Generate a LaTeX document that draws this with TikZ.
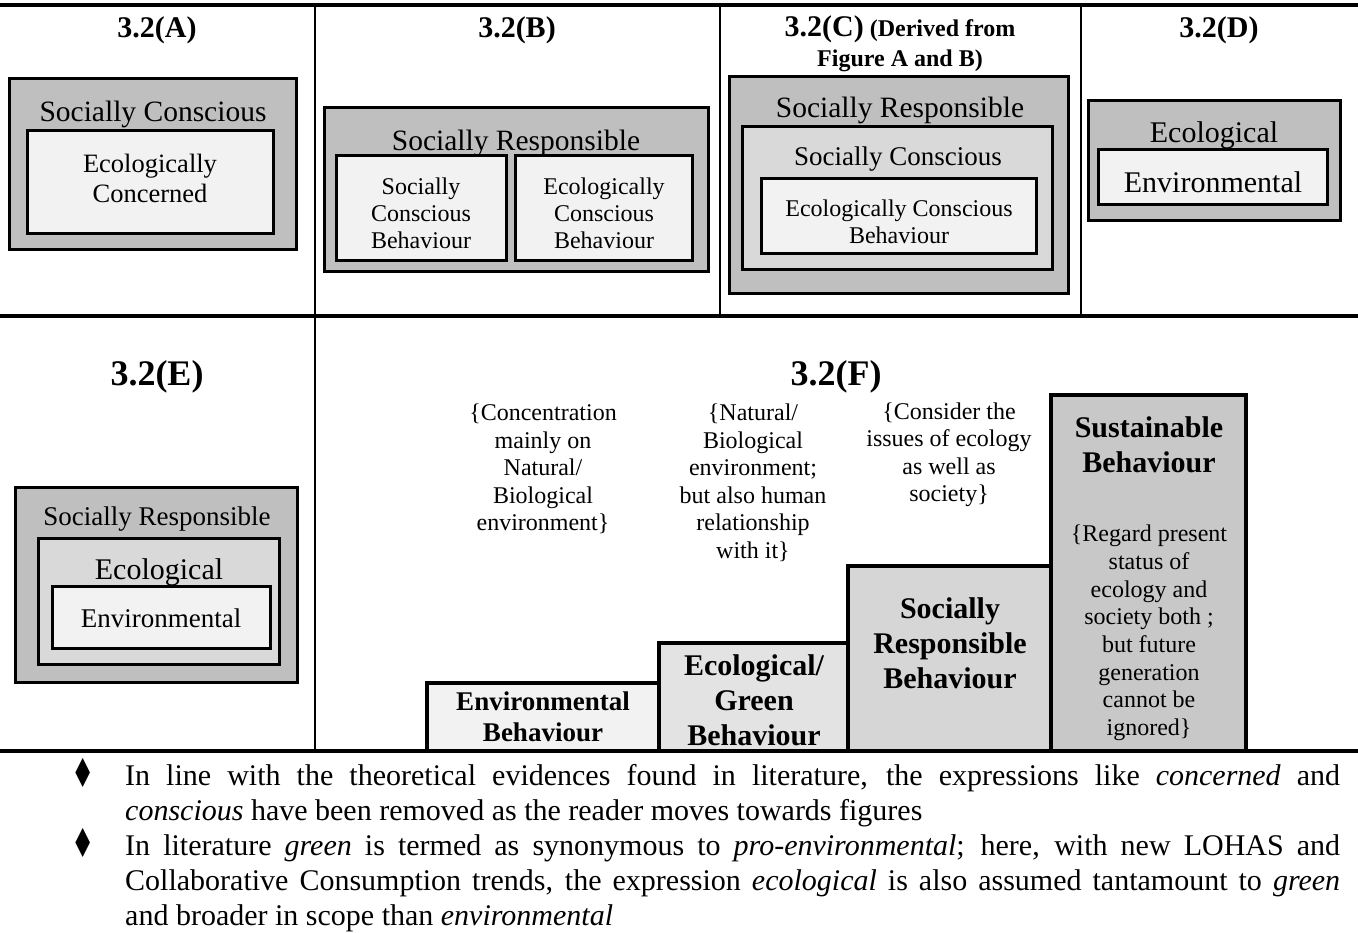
\documentclass[tikz,border=0pt]{standalone}
\usepackage{fontspec}
\setmainfont{Liberation Serif}
\newfontfamily\symfont{DejaVu Sans}
\newcommand\fz[2]{\fontsize{#1}{#2}\selectfont}
\definecolor{gA}{HTML}{BFBFBF}
\definecolor{gB}{HTML}{D9D9D9}
\definecolor{gC}{HTML}{F2F2F2}
\definecolor{sA}{HTML}{F2F2F2}
\definecolor{sB}{HTML}{E3E3E3}
\definecolor{sC}{HTML}{D6D6D6}
\definecolor{sD}{HTML}{C8C8C8}
\begin{document}
\begin{tikzpicture}[x=1pt,y=-1pt,
  frameline/.style={line width=3.5pt},
  panelline/.style={line width=2pt},
  box/.style={draw,line width=3pt},
  stepbox/.style={draw,line width=3.5pt},
  lbl/.style={inner sep=0pt,align=center,yshift=-2pt},
  title/.style={lbl,font=\bfseries\fz{30}{34},yshift=-3pt},
  bigtitle/.style={lbl,font=\bfseries\fz{36}{40}},
  note/.style={lbl,font=\fz{24}{27.5}},
  steptext/.style={inner sep=0pt,align=center,font=\bfseries\fz{30}{35}},
  bodyline/.style={inner sep=0pt,anchor=base west,font=\fz{30}{35}},
  bullet/.style={inner sep=0pt,font=\symfont\fz{40}{40},transform shape,xscale=0.65}]
\useasboundingbox (0,0) rectangle (1358,933);
\fill[white] (0,0) rectangle (1358,933);

% frame
\draw[frameline] (0,5) -- (1358,5);
\draw[frameline] (0,316) -- (1358,316);
\draw[frameline] (0,751) -- (1358,751);
\draw[panelline] (315,5) -- (315,751);
\draw[panelline] (720,5) -- (720,316);
\draw[panelline] (1081,5) -- (1081,316);

% titles
\node[title] (tA) at (157,25) {3.2(A)};
\node[title] (tB) at (517,25) {3.2(B)};
\node[lbl,font=\bfseries\fz{24}{30}] (tC) at (900,42) {{\fz{30}{30}3.2(C)} (Derived from\\Figure A and B)};
\node[title] (tD) at (1219,25) {3.2(D)};
\node[bigtitle] (tE) at (157,375) {3.2(E)};
\node[bigtitle] (tF) at (836,375) {3.2(F)};

% panel A
\draw[box,fill=gA] (9,79) rectangle (296,250);
\node[lbl,font=\fz{29.5}{34}] (aOut) at (153,112) {Socially Conscious};
\draw[box,fill=gC] (27,131) rectangle (273,234);
\node[lbl,font=\fz{26.5}{30}] (aIn) at (150,176) {Ecologically\\Concerned};

% panel B
\draw[box,fill=gA] (324,108) rectangle (708,272);
\node[lbl,font=\fz{29.5}{34}] (bOut) at (516,141) {Socially Responsible};
\draw[box,fill=gC] (336,156) rectangle (506,261);
\node[lbl,font=\fz{24}{27}] (bL) at (421,211) {Socially\\Conscious\\Behaviour};
\draw[box,fill=gC] (515,156) rectangle (692,261);
\node[lbl,font=\fz{24}{27}] (bR) at (604,211) {Ecologically\\Conscious\\Behaviour};

% panel C
\draw[box,fill=gA] (729,77) rectangle (1068,294);
\node[lbl,font=\fz{29.5}{34}] (cOut) at (900,108) {Socially Responsible};
\draw[box,fill=gB] (742,127) rectangle (1052,270);
\node[lbl,font=\fz{27}{30}] (cMid) at (898,157) {Socially Conscious};
\draw[box,fill=gC] (761,179) rectangle (1036,254);
\node[lbl,font=\fz{24}{27}] (cIn) at (899,220) {Ecologically Conscious\\Behaviour};

% panel D
\draw[box,fill=gA] (1088,101) rectangle (1340,221);
\node[lbl,font=\fz{30}{34}] (dOut) at (1214,133) {Ecological};
\draw[box,fill=gC] (1098,150) rectangle (1327,205);
\node[lbl,font=\fz{30}{34}] (dIn) at (1213,180) {Environmental};

% panel E
\draw[box,fill=gA] (15,487) rectangle (297,682);
\node[lbl,font=\fz{27}{30}] (eOut) at (157,517) {Socially Responsible};
\draw[box,fill=gB] (38,538) rectangle (279,664);
\node[lbl,font=\fz{30}{34}] (eMid) at (159,570) {Ecological};
\draw[box,fill=gC] (52,586) rectangle (270,648);
\node[lbl,font=\fz{27}{30}] (eIn) at (161,616) {Environmental};

% panel F steps
\draw[stepbox,fill=sA] (427,683) rectangle (659,751);
\draw[stepbox,fill=sB] (659,643) rectangle (848,751);
\draw[stepbox,fill=sC] (848,566) rectangle (1051,751);
\draw[stepbox,fill=sD] (1051,395) rectangle (1246,751);
\node[inner sep=0pt,align=center,font=\bfseries\fz{27}{31}] (fA) at (543,717) {Environmental\\Behaviour};
\node[steptext] (fB) at (754,700) {Ecological/\\Green\\Behaviour};
\node[steptext] (fC) at (950,643) {Socially\\Responsible\\Behaviour};
\node[steptext] (fD) at (1149,445) {Sustainable\\Behaviour};
\node[lbl,font=\fz{24}{27.7}] (fDn) at (1149,631) {\{Regard present\\status of\\ecology and\\society both ;\\but future\\generation\\cannot be\\ignored\}};

% notes
\node[note] (n1) at (543,467) {\{Concentration\\mainly on\\Natural/\\Biological\\environment\}};
\node[note] (n2) at (753,481) {\{Natural/\\Biological\\environment;\\but also human\\relationship\\with it\}};
\node[note] (n3) at (949,453) {\{Consider the\\issues of ecology\\as well as\\society\}};

% bottom text
\node[bullet] (b1) at (83,773) {♦};
\node[bullet] (b2) at (83,843) {♦};
\node[bodyline] (l1) at (125,785) {\hbox to 1215pt{In line with the theoretical evidences found in literature, the expressions like \textit{concerned} and}};
\node[bodyline] (l2) at (125,820) {\textit{conscious} have been removed as the reader moves towards figures};
\node[bodyline] (l3) at (125,855) {\hbox to 1215pt{In literature \textit{green} is termed as synonymous to \textit{pro-environmental}; here, with new LOHAS and}};
\node[bodyline] (l4) at (125,890) {\hbox to 1215pt{Collaborative Consumption trends, the expression \textit{ecological} is also assumed tantamount to \textit{green}}};
\node[bodyline] (l5) at (125,925) {and broader in scope than \textit{environmental}};
\end{tikzpicture}
\end{document}
